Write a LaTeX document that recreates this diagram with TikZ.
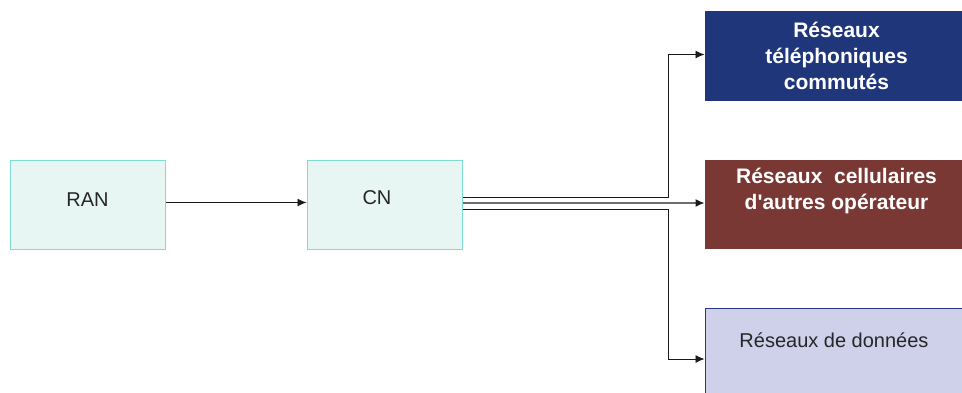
\documentclass[tikz,border=0pt]{standalone}
\usepackage{fontspec}
\setmainfont{Liberation Sans}
\usetikzlibrary{arrows.meta}
\definecolor{tealfill}{HTML}{E8F6F3}
\definecolor{tealdraw}{HTML}{7FDDD0}
\definecolor{navyfill}{HTML}{1F377A}
\definecolor{brownfill}{HTML}{7A3834}
\definecolor{lavfill}{HTML}{CFD0EA}
\definecolor{lavdraw}{HTML}{2F3585}
\definecolor{darkline}{HTML}{1A1A1A}
\tikzset{
  srcbox/.style={draw=tealdraw, fill=tealfill, line width=1pt, minimum width=155pt, minimum height=89pt, inner sep=0pt},
  netbox/.style={minimum width=265pt, inner sep=0pt, line width=1pt},
  lbl/.style={font=\fontsize{20}{24}\selectfont, text=black!85, inner sep=0pt},
  wlbl/.style={font=\fontsize{21}{26}\selectfont\bfseries, text=white, align=center, inner sep=0pt},
  arr/.style={draw=darkline, line width=0.9pt, -{Latex[length=9pt,width=8pt,color=darkline]}},
}
\begin{document}
\begin{tikzpicture}[x=1pt,y=-1pt]
\clip (0,0) rectangle (962,392);
\fill[white] (0,0) rectangle (962,392);
% source boxes
\node[srcbox] (RAN) at (87.5,204.5) {};
\node[lbl] (RANt) at (87.5,200) {RAN};
\node[srcbox] (CN) at (384.5,204.5) {};
\node[lbl] (CNt) at (377,197.5) {CN};
% target boxes
\node[netbox, fill=navyfill, minimum height=90pt] (T) at (837.5,56) {};
\node[wlbl] (Tt) at (836.5,56) {Réseaux\\téléphoniques\\commutés};
\node[netbox, fill=brownfill, minimum height=89pt] (C) at (837.5,204.5) {};
\node[wlbl] (Ct) at (836.5,191) {Réseaux\ \ cellulaires\\d\textquotesingle autres opérateur};
\node[netbox, draw=lavdraw, fill=lavfill, minimum height=102pt] (D) at (837.5,359) {};
\node[lbl] (Dt) at (834,340) {Réseaux de données};
% connectors
\draw[arr] (RAN.east |- 0,202.5) -- (CN.west |- 0,202.5);
\coordinate (j1) at (668,197);
\coordinate (j2) at (668,209.5);
\draw[arr] ([yshift=7.5pt]CN.east) -- (j1) |- ([yshift=1.5pt]T.west);
\draw[arr, draw=gray!85!black, line width=1.4pt] ([yshift=1.5pt]CN.east) -- ([yshift=1.5pt]C.west);
\draw[arr] ([yshift=-5pt]CN.east) -- (j2) |- (D.west);
\end{tikzpicture}
\end{document}
